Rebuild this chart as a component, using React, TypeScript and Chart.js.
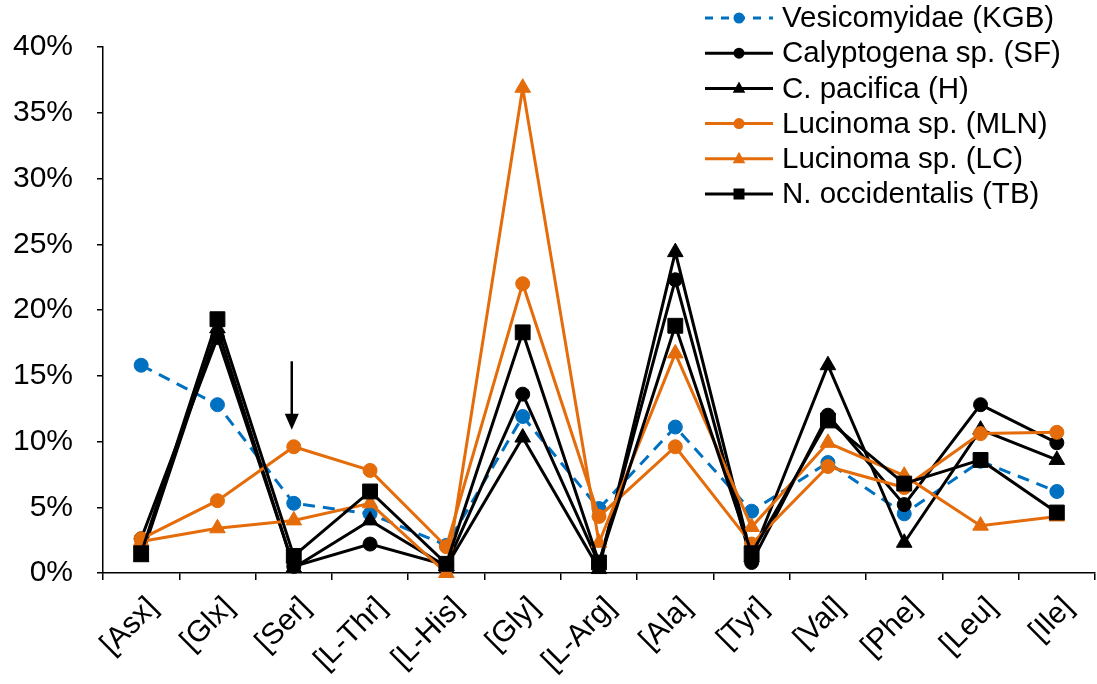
import React, { useEffect, useRef } from "react";
import { Chart, registerables } from "chart.js";

Chart.register(...registerables);

// Amino acid categories along the x axis
const categories = [
  "[Asx]", "[Glx]", "[Ser]", "[L-Thr]", "[L-His]", "[Gly]", "[L-Arg]",
  "[Ala]", "[Tyr]", "[Val]", "[Phe]", "[Leu]", "[Ile]",
];

// Relative abundance (%) per taxon
const vesicomyidaeKGB = [15.8, 12.8, 5.3, 4.5, 2.1, 11.9, 4.9, 11.1, 4.7, 8.4, 4.5, 8.5, 6.2];
const calyptogenaSF = [2.6, 17.9, 0.5, 2.2, 0.6, 13.6, 0.7, 22.3, 0.8, 12.0, 5.2, 12.8, 9.9];
const cPacificaH = [1.2, 18.6, 0.4, 4.0, 0.5, 10.3, 0.3, 24.4, 1.2, 15.8, 2.3, 10.9, 8.6];
const lucinomaMLN = [2.6, 5.5, 9.6, 7.8, 2.0, 22.0, 4.3, 9.6, 2.2, 8.1, 6.5, 10.6, 10.7];
const lucinomaLC = [2.4, 3.4, 4.0, 5.3, 0.0, 36.9, 2.3, 16.7, 3.5, 9.9, 7.4, 3.6, 4.3];
const nOccidentalisTB = [1.5, 19.3, 1.3, 6.2, 0.7, 18.3, 0.8, 18.8, 1.5, 11.6, 6.8, 8.6, 4.6];

// Y axis range and step (%)
const yMin = 0;
const yMax = 40;
const yStep = 5;

// Arrow marking the serine value
const arrowCategory = "[Ser]";
const arrowFrom = 16.1;
const arrowTo = 10.9;

const BLUE = "#0070C0";
const ORANGE = "#E46C0A";
const BLACK = "#000000";
const FONT = "'Liberation Sans', Arial, sans-serif";

type Series = {
  label: string;
  data: number[];
  color: string;
  point: "circle" | "triangle" | "rect";
  dashed?: boolean;
};

const series: Series[] = [
  { label: "Vesicomyidae (KGB)", data: vesicomyidaeKGB, color: BLUE, point: "circle", dashed: true },
  { label: "Calyptogena sp. (SF)", data: calyptogenaSF, color: BLACK, point: "circle" },
  { label: "C. pacifica (H)", data: cPacificaH, color: BLACK, point: "triangle" },
  { label: "Lucinoma sp. (MLN)", data: lucinomaMLN, color: ORANGE, point: "circle" },
  { label: "Lucinoma sp. (LC)", data: lucinomaLC, color: ORANGE, point: "triangle" },
  { label: "N. occidentalis (TB)", data: nOccidentalisTB, color: BLACK, point: "rect" },
];

const pointRadius = { circle: 7, triangle: 9, rect: 10.5 };
const DASH = [12, 8];

function drawMarker(ctx: CanvasRenderingContext2D, style: string, x: number, y: number, r: number, color: string) {
  ctx.save();
  ctx.fillStyle = color;
  ctx.beginPath();
  if (style === "circle") {
    ctx.arc(x, y, r, 0, Math.PI * 2);
  } else if (style === "triangle") {
    ctx.moveTo(x, y - r);
    ctx.lineTo(x + r * 0.9, y + r * 0.62);
    ctx.lineTo(x - r * 0.9, y + r * 0.62);
    ctx.closePath();
  } else {
    ctx.rect(x - r, y - r, 2 * r, 2 * r);
  }
  ctx.fill();
  ctx.restore();
}

// Legend drawn in the upper right corner of the plot area
const legendPlugin = {
  id: "cornerLegend",
  afterDraw(chart: any) {
    const ctx: CanvasRenderingContext2D = chart.ctx;
    const x0 = 705;
    const x1 = 773;
    const xm = (x0 + x1) / 2;
    const top = 18;
    const gap = 35.2;
    ctx.save();
    series.forEach((s, i) => {
      const y = top + i * gap;
      ctx.strokeStyle = s.color;
      ctx.lineWidth = 3;
      ctx.setLineDash(s.dashed ? [8, 8] : []);
      ctx.beginPath();
      ctx.moveTo(x0, y);
      ctx.lineTo(x1, y);
      ctx.stroke();
      ctx.setLineDash([]);
      const r = s.point === "circle" ? 5.5 : s.point === "triangle" ? 7 : 5.5;
      drawMarker(ctx, s.point, xm, y, r, s.color);
      ctx.fillStyle = "#000";
      ctx.font = `29.5px ${FONT}`;
      ctx.textAlign = "left";
      ctx.textBaseline = "middle";
      ctx.fillText(s.label, 782, y + 1);
    });
    ctx.restore();
  },
};

// Downward arrow pointing at a category value
const arrowPlugin = {
  id: "pointerArrow",
  afterDatasetsDraw(chart: any) {
    const ctx: CanvasRenderingContext2D = chart.ctx;
    const xs = chart.scales.x;
    const ys = chart.scales.y;
    const x = xs.getPixelForValue(categories.indexOf(arrowCategory)) - 2;
    const yA = ys.getPixelForValue(arrowFrom);
    const yB = ys.getPixelForValue(arrowTo);
    ctx.save();
    ctx.strokeStyle = "#000";
    ctx.fillStyle = "#000";
    ctx.lineWidth = 2.5;
    ctx.beginPath();
    ctx.moveTo(x, yA);
    ctx.lineTo(x, yB - 14);
    ctx.stroke();
    ctx.beginPath();
    ctx.moveTo(x - 7, yB - 16);
    ctx.lineTo(x + 7, yB - 16);
    ctx.lineTo(x, yB);
    ctx.closePath();
    ctx.fill();
    ctx.restore();
  },
};

export default function App() {
  const canvasRef = useRef<HTMLCanvasElement | null>(null);

  useEffect(() => {
    document.body.style.margin = "0";
    const canvas = canvasRef.current;
    if (!canvas) return;

    const chart = new Chart(canvas, {
      type: "line",
      data: {
        labels: categories,
        datasets: series.map((s, i) => ({
          label: s.label,
          data: s.data,
          borderColor: s.color,
          backgroundColor: s.color,
          borderWidth: 3,
          borderDash: s.dashed ? DASH : [],
          pointStyle: s.point,
          pointRadius: pointRadius[s.point],
          pointBorderWidth: 1,
          pointBackgroundColor: s.color,
          pointBorderColor: s.color,
          tension: 0,
          fill: false,
          clip: false as any,
          order: series.length - i,
        })),
      },
      options: {
        animation: false,
        responsive: false,
        maintainAspectRatio: false,
        layout: { autoPadding: false, padding: { top: 47, right: 2, left: 0, bottom: 0 } },
        plugins: {
          legend: { display: false },
          tooltip: { enabled: false },
        },
        scales: {
          x: {
            offset: true,
            grid: {
              offset: true,
              drawOnChartArea: false,
              drawTicks: true,
              tickLength: 7,
              color: "#000",
              lineWidth: 1.5,
            },
            border: { color: "#000", width: 1.5 },
            ticks: {
              autoSkip: false,
              maxRotation: 45,
              minRotation: 45,
              padding: 10,
              labelOffset: 12,
              color: "#000",
              font: { family: FONT, size: 30 },
            },
            afterFit(scale: any) {
              scale.height = 111;
              scale.paddingLeft = 0;
              scale.paddingRight = 0;
            },
          },
          y: {
            min: yMin,
            max: yMax,
            grid: {
              drawOnChartArea: false,
              drawTicks: true,
              tickLength: 6,
              color: "#000",
              lineWidth: 1.5,
            },
            border: { color: "#000", width: 1.5 },
            ticks: {
              stepSize: yStep,
              padding: 24,
              color: "#000",
              font: { family: FONT, size: 30 },
              callback: (v: any) => `${v}%`,
            },
            afterFit(scale: any) {
              scale.width = 103;
            },
          },
        },
      },
      plugins: [legendPlugin, arrowPlugin],
    });

    return () => chart.destroy();
  }, []);

  return (
    <div style={{ position: "fixed", left: 0, top: 0, width: 1097, height: 684, background: "#fff" }}>
      <canvas ref={canvasRef} width={1097} height={684} style={{ width: 1097, height: 684 }} />
    </div>
  );
}
